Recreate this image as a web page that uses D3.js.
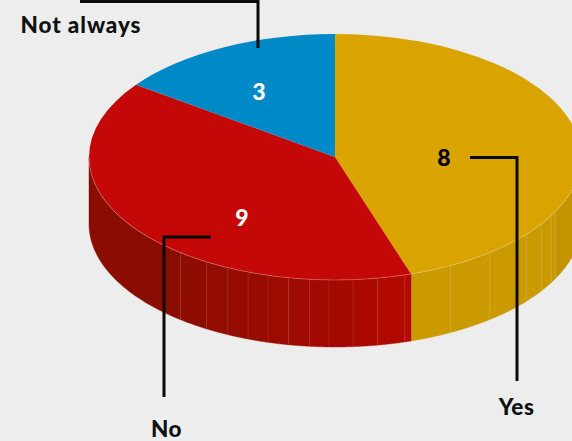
<!DOCTYPE html>
<html><head><meta charset="utf-8">
<script src="https://cdn.jsdelivr.net/npm/d3@7"></script>
<style>html,body{margin:0;padding:0;background:#ededed;overflow:hidden}
svg{display:block}text{font-family:Lato,sans-serif;font-weight:900}</style></head>
<body><svg id="c" width="572" height="441"></svg>
<script>
const categories = ["Yes","No","Not always"];
// Slice sweep as drawn in the picture (45% / 40% / 15%)
const sliceShares = [9,8,3];
// Numbers as printed in the picture
const printedValues = ["8","9","3"];
const topColors = ["#d9a300","#c40808","#0089c7"];
const wallRamps = [["#b88a00","#c49400","#ca9a00","#ca9a00"],["#b60800","#a30a00","#8e0c00","#880c00"],["#0089c7","#0089c7","#0089c7","#0089c7"]];
const seamAngles = [181.4,186,190.9,195.8,200.7,205.8,211.5,218.9,175.8,170,163.5,152,141,129,123,118.5,116.5];

const W=572,H=441,cx=335,cy=157,rx=246,ry=123,depth=67;
const svg=d3.select("#c");
svg.append("rect").attr("width",W).attr("height",H).attr("fill","#ededed");

const arcs=d3.pie().sort(null).value(d=>d)(sliceShares);
const deg=d3.scaleLinear().domain([0,360]).range([0,2*Math.PI]);
const px=a=>cx+rx*Math.sin(a), py=a=>cy-ry*Math.cos(a);

const wallArea=d3.area().x(a=>px(a)).y0(a=>py(a)).y1(a=>py(a)+depth);
const samples=(a0,a1)=>d3.range(0,41).map(i=>a0+(a1-a0)*i/40);
const g=svg.append("g");
const lo=deg(90),hi=deg(270);
const stops=seamAngles.map(deg).sort((a,b)=>a-b);
arcs.forEach((d,i)=>{
  const s=Math.max(d.startAngle,lo),e=Math.min(d.endAngle,hi);
  if(e<=s)return;
  const cuts=[s,...stops.filter(a=>a>s&&a<e),e];
  const span=e-s;
  const shade=d3.scaleLinear().domain([s,s+span*.17,s+span*.5,e]).range(wallRamps[i]).interpolate(d3.interpolateRgb);
  d3.pairs(cuts).forEach(([a,b])=>{
    g.append("path").attr("d",wallArea(samples(a,b))).attr("fill",shade((a+b)/2))
     .attr("stroke",shade((a+b)/2)).attr("stroke-width",.4);
  });
  cuts.slice(1,-1).forEach(a=>{
    g.append("line").attr("x1",px(a)).attr("x2",px(a)).attr("y1",py(a)).attr("y2",py(a)+depth)
     .attr("stroke","#fff").attr("stroke-opacity",.1).attr("stroke-width",1);
  });
});
const arc=d3.arc().innerRadius(0).outerRadius(rx);
const face=svg.append("g").attr("transform",`translate(${cx},${cy}) scale(1,${ry/rx})`);
face.selectAll("path").data(arcs).join("path").attr("d",arc).attr("fill",(d,i)=>topColors[i]);
svg.append("path").attr("fill","none").attr("stroke","#fff").attr("stroke-opacity",.3).attr("stroke-width",.8)
  .attr("d",d3.line().x(px).y(py)(samples(lo,hi)));

const leader=d3.line();
[[[80,1.5],[258,1.5],[258,48]],[[470,157.5],[517,157.5],[517,381]],[[211,237],[164,237],[164,397]]].forEach(p=>{
  svg.append("path").attr("d",leader(p)).attr("fill","none").attr("stroke","#0a0a0a").attr("stroke-width",3);
});
const lab=(t,x,y,c,s,ls)=>svg.append("text").attr("x",x).attr("y",y).attr("text-anchor","middle")
  .attr("dominant-baseline","central").attr("fill",c).attr("font-size",s).attr("letter-spacing",ls).text(t);
lab(printedValues[0],444,157,"#000",23,0);
lab(printedValues[1],242,217,"#fff",23,0);
lab(printedValues[2],259,91,"#fff",23,0);
lab(categories[0],516.5,406.5,"#111",22.5,.5);
lab(categories[1],166.5,428,"#111",22.5,.5);
lab(categories[2],81,24,"#111",22.5,.9);
</script></body></html>
